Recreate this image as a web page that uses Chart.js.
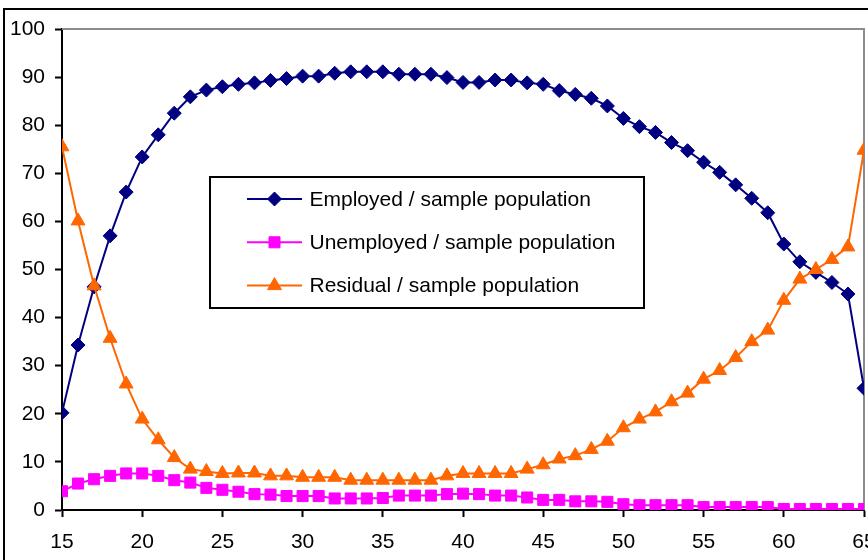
<!DOCTYPE html>
<html>
<head>
<meta charset="utf-8">
<script src="https://cdn.jsdelivr.net/npm/chart.js@4/dist/chart.umd.min.js"></script>
<style>
  html, body { margin: 0; padding: 0; background: #fff; overflow: hidden; width: 868px; height: 560px; }
  #frame { position: absolute; left: 3px; top: 8px; width: 1000px; height: 1000px; border: 2px solid #000; box-sizing: border-box; }
  #wrap { position: absolute; left: 0; top: 0; width: 900px; height: 580px; }
</style>
</head>
<body>
<div id="frame"></div>
<div id="wrap"><canvas id="c" width="900" height="580"></canvas></div>
<script>
// Age (years)
const ages = [15, 16, 17, 18, 19, 20, 21, 22, 23, 24, 25, 26, 27, 28, 29, 30, 31, 32, 33, 34,
  35, 36, 37, 38, 39, 40, 41, 42, 43, 44, 45, 46, 47, 48, 49, 50, 51, 52, 53, 54,
  55, 56, 57, 58, 59, 60, 61, 62, 63, 64, 65];

// Shares of the sample population, in percent
const employed = [20.2, 34.3, 46.4, 57.0, 66.1, 73.4, 78.0, 82.5, 85.9, 87.3, 88.0, 88.5, 88.8, 89.3, 89.7, 90.2, 90.2, 90.8, 91.1, 91.1,
  91.1, 90.6, 90.6, 90.6, 89.9, 88.9, 88.9, 89.4, 89.4, 88.8, 88.5, 87.2, 86.4, 85.6, 84.0, 81.4, 79.7, 78.5, 76.4, 74.7,
  72.3, 70.2, 67.6, 64.8, 61.8, 55.3, 51.6, 49.4, 47.3, 44.9, 25.3];
const unemployed = [3.9, 5.5, 6.4, 7.1, 7.6, 7.6, 7.1, 6.2, 5.7, 4.6, 4.2, 3.8, 3.3, 3.2, 2.9, 2.9, 2.9, 2.4, 2.4, 2.4,
  2.5, 3.0, 3.0, 3.0, 3.3, 3.4, 3.3, 3.0, 3.0, 2.6, 2.1, 2.1, 1.8, 1.8, 1.7, 1.2, 1.0, 1.0, 1.0, 1.0,
  0.6, 0.6, 0.6, 0.6, 0.6, 0.2, 0.2, 0.2, 0.2, 0.2, 0.2];
const residual = [75.5, 60.1, 46.6, 35.7, 26.2, 18.9, 14.6, 10.9, 8.5, 8.0, 7.6, 7.7, 7.7, 7.1, 7.1, 6.8, 6.8, 6.8, 6.2, 6.2,
  6.2, 6.2, 6.2, 6.2, 7.1, 7.6, 7.6, 7.6, 7.6, 8.5, 9.4, 10.6, 11.3, 12.6, 14.3, 17.1, 18.9, 20.4, 22.5, 24.3,
  27.2, 29.0, 31.7, 35.0, 37.4, 43.6, 48.0, 50.0, 52.1, 54.7, 74.8];

const seriesNames = ['Employed / sample population', 'Unemployed / sample population', 'Residual / sample population'];
const xTicks = [15, 20, 25, 30, 35, 40, 45, 50, 55, 60, 65];
const yTicks = [0, 10, 20, 30, 40, 50, 60, 70, 80, 90, 100];

const FONT = '"Liberation Sans", Arial, sans-serif';
const FONT_SIZE = 21;

function pairs(values) {
  return ages.map((a, i) => ({ x: a, y: values[i] }));
}

function series(label, values, color, style, radius, order) {
  return {
    label, data: pairs(values), order,
    borderColor: color, backgroundColor: color, borderWidth: 2,
    pointStyle: style, pointRadius: radius, pointBorderWidth: 1,
    pointBackgroundColor: color, pointBorderColor: color, tension: 0
  };
}

// Grey frame on the top and right edges of the plot area
const plotFrame = {
  id: 'plotFrame',
  beforeDatasetsDraw(chart) {
    const { ctx, chartArea: a } = chart;
    ctx.save();
    ctx.strokeStyle = '#8c8c8c';
    ctx.lineWidth = 2;
    ctx.beginPath();
    ctx.moveTo(a.left, a.top);
    ctx.lineTo(a.right, a.top);
    ctx.lineTo(a.right, a.bottom);
    ctx.stroke();
    ctx.restore();
  }
};

// Boxed legend placed inside the plot area
const insetLegend = {
  id: 'insetLegend',
  afterDatasetsDraw(chart, args, o) {
    const ctx = chart.ctx;
    ctx.save();
    ctx.fillStyle = '#fff';
    ctx.fillRect(o.left, o.top, o.width, o.height);
    ctx.strokeStyle = '#000';
    ctx.lineWidth = 2;
    ctx.strokeRect(o.left, o.top, o.width, o.height);
    const ds = chart.data.datasets;
    ds.forEach((d, i) => {
      const y = o.firstRow + i * o.rowGap;
      ctx.strokeStyle = d.borderColor;
      ctx.lineWidth = 2;
      ctx.beginPath();
      ctx.moveTo(o.lineStart, y);
      ctx.lineTo(o.lineEnd, y);
      ctx.stroke();
      ctx.fillStyle = d.pointBackgroundColor;
      ctx.strokeStyle = d.pointBorderColor;
      ctx.lineWidth = 1;
      Chart.helpers.drawPoint(ctx, { pointStyle: d.pointStyle, radius: d.pointRadius, rotation: 0, borderWidth: 1 },
        (o.lineStart + o.lineEnd) / 2, y);
      ctx.fillStyle = '#000';
      ctx.font = FONT_SIZE + 'px ' + FONT;
      ctx.textBaseline = 'middle';
      ctx.textAlign = 'left';
      ctx.fillText(d.label, o.textX, y + 1);
    });
    ctx.restore();
  }
};

const axisGrid = { drawOnChartArea: false, drawTicks: true, tickLength: 7, tickColor: '#000', tickWidth: 2 };
const axisBorder = { display: true, color: '#000', width: 2 };
const tickFont = { family: FONT, size: FONT_SIZE };

new Chart(document.getElementById('c'), {
  type: 'line',
  data: {
    datasets: [
      series(seriesNames[0], employed, '#000080', 'rectRot', 7, 2),
      series(seriesNames[1], unemployed, '#ff00ff', 'rect', 7.8, 1),
      series(seriesNames[2], residual, '#ff6600', 'triangle', 8, 0)
    ]
  },
  options: {
    responsive: false,
    animation: false,
    events: [],
    layout: { padding: { top: 29, right: 36, left: 0, bottom: 0 } },
    scales: {
      x: {
        type: 'linear', min: xTicks[0], max: xTicks[xTicks.length - 1],
        afterFit(s) { s.height = 70; },
        afterBuildTicks(s) { s.ticks = xTicks.map(v => ({ value: v })); },
        ticks: { color: '#000', font: tickFont, padding: 13, maxRotation: 0, autoSkip: false },
        grid: axisGrid, border: axisBorder
      },
      y: {
        type: 'linear', min: yTicks[0], max: yTicks[yTicks.length - 1],
        afterFit(s) { s.width = 62; },
        afterBuildTicks(s) { s.ticks = yTicks.map(v => ({ value: v })); },
        ticks: { color: '#000', font: tickFont, padding: 10 },
        grid: axisGrid, border: axisBorder
      }
    },
    plugins: {
      legend: { display: false },
      tooltip: { enabled: false },
      insetLegend: { left: 210, top: 177, width: 434, height: 131, firstRow: 199, rowGap: 43.3, lineStart: 247, lineEnd: 302, textX: 309.5 }
    }
  },
  plugins: [plotFrame, insetLegend]
});
</script>
</body>
</html>
